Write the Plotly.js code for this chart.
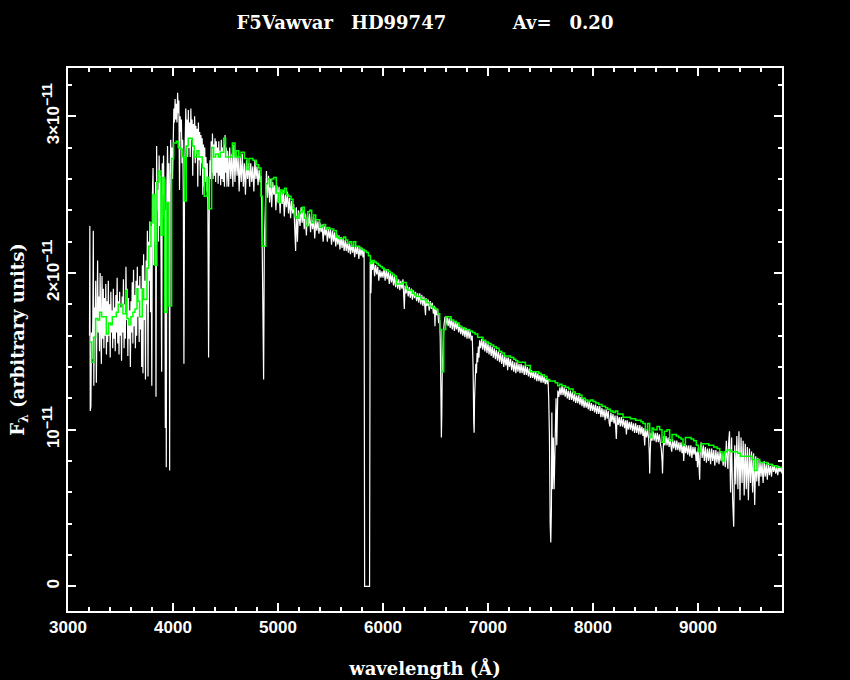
<!DOCTYPE html>
<html>
<head>
<meta charset="utf-8">
<script src="https://cdn.plot.ly/plotly-3.0.1.min.js"></script>
<style>html,body{margin:0;padding:0;background:#000;}#chart{width:850px;height:680px;}</style>
</head>
<body>
<div id="chart"></div>
<script>
const observedUV = [
[3205,1.60],[3208,2.30],[3212,1.12],[3218,1.15],[3224,1.62],[3230,1.45],[3236,1.70],[3241,2.27],[3246,1.28],[3252,1.78],
[3258,1.60],[3264,1.95],[3270,1.30],[3276,1.90],[3282,2.08],[3288,1.62],[3294,1.85],[3300,1.50],[3306,2.00],[3312,1.65],
[3318,1.42],[3324,1.98],[3330,1.58],[3336,1.90],[3342,1.52],[3348,1.84],[3354,1.60],[3360,1.93],[3366,1.48],[3372,1.82],
[3378,1.56],[3384,1.95],[3390,1.60],[3396,1.80],[3402,1.46],[3408,1.88],[3414,1.62],[3420,1.76],[3426,1.52],[3432,1.90],
[3438,1.58],[3444,1.78],[3450,1.50],[3456,1.86],[3462,1.62],[3468,1.97],[3474,1.55],[3480,1.82],[3486,1.48],[3492,1.88],
[3498,1.60],[3504,1.78],[3510,1.44],[3516,1.85],[3522,1.62],[3528,1.96],[3534,1.52],[3540,1.80],[3546,1.58],[3552,2.04],
[3558,1.70],[3564,1.90],[3570,1.47],[3576,1.84],[3582,1.58],[3588,1.76],[3594,1.40],[3600,1.82],[3606,1.62],[3612,1.94],
[3618,1.55],[3624,2.02],[3630,1.66],[3636,1.86],[3642,1.52],[3648,1.95],[3654,1.60],[3660,2.04],[3666,1.72],[3672,1.92],
[3678,1.56],[3684,1.98],[3690,1.64],[3696,1.90]
];
const observedBlue = [
[3702,1.40],[3708,2.05],[3714,1.36],[3720,2.12],[3726,1.70],[3732,1.95],[3738,1.32],[3744,2.08],[3750,1.80],[3756,2.27],
[3762,1.34],[3768,2.20],[3774,1.95],[3780,2.33],[3786,1.75],[3792,2.30],[3798,1.28],[3804,2.50],[3810,2.67],[3816,2.05],
[3822,2.50],[3828,2.20],[3834,2.58],[3838,1.21],[3844,2.81],[3850,2.40],[3856,2.53],[3862,2.20],[3868,2.75],[3874,2.30],
[3880,2.62],[3886,2.10],[3892,1.37],[3898,2.70],[3904,2.50],[3910,2.75],[3916,2.35],[3922,2.60],[3927,1.01],[3932,2.40],
[3936,0.76],[3942,2.55],[3948,2.81],[3954,2.45],[3960,2.70],[3964,2.30],[3968,0.74],[3972,2.50],[3978,2.85],[3984,2.64],
[3990,2.80],[3996,2.60],[4002,2.90],[4008,3.05],[4014,2.96],[4020,3.11],[4026,2.98],[4032,3.08],[4038,2.96],[4044,3.15],
[4050,3.02],[4056,3.10],[4062,2.53],[4068,3.00],[4074,2.90],[4080,2.98],[4086,2.70],[4092,2.85],[4098,2.53],[4104,1.42],
[4110,2.60],[4116,2.85],[4122,3.05],[4128,2.78],[4134,2.98],[4140,2.74],[4146,3.04],[4152,2.80],[4158,2.96],[4164,2.74],
[4170,3.05],[4176,2.85],[4182,2.98],[4188,2.62],[4194,2.95],[4200,2.78],[4206,3.00],[4212,2.70],[4218,2.94],[4224,2.76],
[4230,2.92],[4236,2.55],[4242,2.96],[4248,2.72],[4254,2.90],[4260,2.62],[4266,2.88],[4272,2.70],[4278,2.86],[4284,2.50],
[4290,2.82],[4296,2.55],[4302,2.80],[4308,2.58],[4314,2.74],[4320,2.52],[4326,2.70],[4332,2.45],[4339,1.46],[4346,2.50],
[4352,2.72],[4358,2.60],[4364,2.84],[4370,2.64],[4376,2.89],[4382,2.60],[4388,2.82],[4394,2.62],[4400,2.86],[4406,2.58],
[4412,2.84],[4418,2.64],[4424,2.80],[4430,2.57],[4436,2.84],[4442,2.62],[4448,2.78],[4454,2.56],[4460,2.85],[4466,2.60],
[4472,2.80],[4478,2.58],[4484,2.82],[4490,2.55],[4496,2.88],[4502,2.64],[4508,2.80],[4514,2.55],[4520,2.78]
];
const observedGreen = [
[4530,2.55],[4540,2.80],[4550,2.60],[4560,2.76],[4570,2.55],[4580,2.82],[4590,2.58],[4600,2.78],[4610,2.62],[4620,2.75],
[4630,2.52],[4640,2.74],[4650,2.58],[4660,2.76],[4670,2.55],[4680,2.70],[4690,2.50],[4700,2.72],[4710,2.60],[4720,2.70],
[4730,2.55],[4740,2.70],[4750,2.58],[4760,2.68],[4770,2.52],[4780,2.72],[4790,2.60],[4800,2.68],[4810,2.56],[4820,2.66],
[4830,2.58],[4840,2.62],[4850,2.15],[4863,1.32],[4870,2.20],[4880,2.50],[4890,2.65],[4900,2.48],[4910,2.62],[4920,2.45],
[4930,2.60],[4940,2.42],[4950,2.58],[4960,2.50],[4970,2.56],[4980,2.40],[4990,2.56],[5000,2.45],[5010,2.55],[5020,2.38],
[5030,2.52],[5040,2.44],[5050,2.53],[5060,2.36],[5070,2.50],[5080,2.42],[5090,2.52],[5100,2.38],[5110,2.48],[5120,2.35],
[5130,2.46],[5140,2.38],[5150,2.44],[5168,2.14],[5175,2.42],[5185,2.20],[5195,2.40],[5210,2.30],[5220,2.42],[5230,2.32],
[5240,2.40],[5250,2.28],[5260,2.38],[5270,2.24],[5280,2.38],[5290,2.30],[5300,2.38],[5310,2.26],[5320,2.36],[5330,2.28],
[5340,2.35],[5350,2.22],[5360,2.34],[5370,2.27],[5380,2.33],[5390,2.25],[5400,2.32],[5410,2.26],[5420,2.31],[5430,2.20],
[5440,2.30],[5450,2.24],[5460,2.29],[5470,2.20],[5480,2.28],[5490,2.22],[5500,2.28],[5510,2.18],[5520,2.27],[5530,2.20],
[5540,2.26],[5550,2.17],[5560,2.25],[5570,2.18],[5580,2.24],[5590,2.15],[5600,2.23],[5610,2.16],[5620,2.22],[5630,2.14],
[5640,2.21],[5650,2.14],[5660,2.20],[5670,2.13],[5680,2.19],[5690,2.12],[5700,2.19],[5710,2.13],[5720,2.18],[5730,2.10],
[5740,2.17],[5750,2.12],[5760,2.17],[5770,2.09],[5780,2.16],[5790,2.11],[5800,2.16],[5810,2.10],[5820,2.15],[5825,0.00],
[5872,0.00],[5878,2.07],[5885,1.87],[5892,2.08],[5900,2.02],[5910,2.07],[5920,1.98],[5930,2.05],[5940,1.99],[5950,2.04],
[5960,1.95],[5970,2.02],[5980,1.97],[5990,2.01]
];
const observedRed = [
[6000,1.97],[6010,2.03],[6020,1.95],[6030,2.02],[6040,1.96],[6050,2.01],[6060,1.93],[6070,2.00],[6080,1.94],[6090,1.99],
[6100,1.92],[6110,1.98],[6120,1.91],[6130,1.97],[6140,1.90],[6150,1.96],[6160,1.89],[6170,1.95],[6180,1.90],[6190,1.96],
[6200,1.86],[6203,1.77],[6210,1.92],[6220,1.87],[6230,1.92],[6240,1.85],[6250,1.91],[6260,1.84],[6270,1.90],[6280,1.83],
[6290,1.89],[6300,1.84],[6310,1.88],[6320,1.82],[6330,1.87],[6340,1.81],[6350,1.87],[6360,1.80],[6370,1.86],[6380,1.79],
[6390,1.85],[6400,1.78],[6405,1.73],[6410,1.84],[6420,1.79],[6430,1.83],[6440,1.76],[6450,1.82],[6460,1.77],[6470,1.81],
[6480,1.74],[6490,1.79],[6495,1.66],[6500,1.78],[6510,1.73],[6520,1.77],[6530,1.68],[6540,1.70],[6545,1.58],[6552,1.20],
[6556,0.95],[6560,1.10],[6565,1.40],[6570,1.55],[6580,1.66],[6590,1.72],[6600,1.67],[6610,1.72],[6620,1.66],[6630,1.71],
[6640,1.65],[6650,1.71],[6660,1.64],[6670,1.70],[6680,1.63],[6690,1.69],[6700,1.64],[6710,1.68],[6720,1.62],[6730,1.67],
[6740,1.61],[6750,1.66],[6760,1.60],[6770,1.65],[6780,1.59],[6790,1.65],[6800,1.58],[6810,1.64],[6820,1.58],[6830,1.63],
[6840,1.57],[6850,1.60],[6858,1.40],[6864,1.05],[6868,0.98],[6872,1.20],[6878,1.34],[6884,1.42],[6890,1.36],[6896,1.49],
[6902,1.43],[6908,1.53],[6914,1.46],[6920,1.57],[6930,1.52],[6940,1.58],[6950,1.51],[6960,1.57],[6970,1.50],[6980,1.56],
[6990,1.49],[7000,1.55],[7010,1.48],[7020,1.54],[7030,1.47],[7040,1.53],[7050,1.46],[7060,1.52],[7070,1.45],[7080,1.51],
[7090,1.44],[7100,1.50],[7110,1.43],[7120,1.49],[7130,1.42],[7140,1.48],[7150,1.40],[7160,1.47],[7170,1.41],[7180,1.46],
[7187,1.38],[7195,1.46],[7205,1.40],[7215,1.45],[7225,1.38],[7235,1.44],[7245,1.37],[7255,1.43],[7265,1.36],[7275,1.43],
[7285,1.37],[7295,1.42],[7305,1.36],[7315,1.42],[7325,1.36],[7335,1.41],[7345,1.35],[7355,1.41],[7365,1.35],[7375,1.40],
[7385,1.34],[7395,1.39],[7405,1.33],[7415,1.38],[7425,1.33],[7435,1.37],[7445,1.32],[7455,1.37],[7465,1.31],[7475,1.36],
[7485,1.31],[7495,1.35],[7505,1.30],[7515,1.35],[7525,1.30],[7535,1.34],[7545,1.29],[7555,1.33],[7565,1.29],[7572,1.32],
[7578,1.20],[7585,0.97],[7592,0.40],[7598,0.28],[7604,0.50],[7608,1.11],[7614,0.62],[7622,0.95],[7630,0.62],[7640,0.87],
[7648,1.20],[7655,0.90],[7665,1.25],[7675,1.21],[7685,1.27],[7695,1.22],[7705,1.28],[7715,1.22],[7725,1.27],[7735,1.21],
[7745,1.26],[7755,1.20],[7765,1.25],[7775,1.19],[7785,1.25],[7795,1.19],[7805,1.24],[7815,1.18],[7825,1.23],[7835,1.17],
[7845,1.22],[7855,1.17],[7865,1.22],[7875,1.16],[7885,1.21],[7895,1.15],[7905,1.20],[7915,1.14],[7925,1.19],[7935,1.14],
[7945,1.18],[7955,1.13],[7965,1.18],[7975,1.12],[7985,1.17],[7995,1.12]
];
const observedIR = [
[8005,1.16],[8015,1.11],[8025,1.16],[8035,1.10],[8045,1.15],[8055,1.10],[8065,1.15],[8075,1.08],[8085,1.14],[8095,1.08],
[8105,1.13],[8115,1.06],[8125,1.13],[8135,1.07],[8145,1.12],[8155,1.04],[8162,1.02],[8170,1.11],[8180,1.05],[8190,1.10],
[8200,1.04],[8210,1.09],[8222,0.94],[8230,1.09],[8240,1.03],[8250,1.08],[8260,1.02],[8270,1.08],[8280,1.02],[8290,1.07],
[8300,1.01],[8310,1.06],[8318,0.97],[8326,1.06],[8336,1.00],[8346,1.05],[8356,1.00],[8366,1.05],[8376,0.99],[8386,1.04],
[8396,0.98],[8406,1.04],[8416,0.98],[8426,1.03],[8436,0.97],[8446,1.03],[8456,0.97],[8466,1.02],[8476,0.96],[8484,1.01],
[8492,0.90],[8500,1.00],[8510,0.95],[8520,1.00],[8530,0.94],[8536,0.85],[8540,0.72],[8545,0.85],[8552,0.98],[8562,0.93],
[8572,0.99],[8582,0.93],[8592,0.98],[8602,0.92],[8612,0.98],[8622,0.92],[8632,0.97],[8642,0.91],[8650,0.88],[8658,0.80],
[8662,0.72],[8667,0.85],[8675,0.96],[8685,0.90],[8695,0.96],[8705,0.90],[8715,0.95],[8725,0.89],[8735,0.94],[8745,0.88],
[8750,0.86],[8758,0.94],[8768,0.88],[8778,0.93],[8788,0.87],[8798,0.93],[8808,0.87],[8818,0.92],[8828,0.86],[8838,0.92],
[8848,0.85],[8858,0.90],[8864,0.80],[8872,0.91],[8882,0.85],[8892,0.90],[8902,0.84],[8912,0.90],[8922,0.83],[8932,0.90],
[8942,0.82],[8952,0.89],[8962,0.84],[8972,0.89],[8982,0.80],[8990,0.86],[8995,0.76],[9002,0.88],[9010,0.80],[9016,0.68],
[9022,0.88],[9030,0.92],[9040,0.82],[9050,0.90],[9060,0.80],[9070,0.89],[9080,0.79],[9090,0.88],[9100,0.80],[9110,0.88],
[9120,0.78],[9130,0.88],[9140,0.80],[9150,0.87],[9160,0.77],[9170,0.87],[9180,0.79],[9190,0.86],[9200,0.78],[9210,0.86],
[9220,0.80],[9230,0.85],[9240,0.77],[9250,0.86],[9260,0.76],[9270,0.93],[9280,0.78],[9285,0.75],[9292,0.92],
[9300,0.99],[9310,0.60],[9320,0.95],[9330,0.55],[9340,0.38],[9350,0.90],[9360,0.65],[9370,0.96],[9380,0.62],[9390,0.99],
[9400,0.55],[9410,0.95],[9420,0.66],[9430,0.93],[9440,0.58],[9450,0.91],[9460,0.62],[9470,0.89],[9480,0.55],[9490,0.88],
[9500,0.66],[9510,0.86],[9520,0.60],[9530,0.85],[9540,0.52],[9550,0.83],[9560,0.67],[9570,0.82],[9580,0.64],[9590,0.80],
[9600,0.70],[9610,0.79],[9620,0.66],[9630,0.80],[9640,0.70],[9650,0.78],[9660,0.68],[9670,0.79],[9680,0.71],[9690,0.77],
[9700,0.70],[9710,0.78],[9720,0.73],[9730,0.77],[9740,0.72],[9750,0.76],[9760,0.71],[9770,0.77],[9780,0.73],[9790,0.76],
[9800,0.72]
];
// Model spectrum (binned, bin start wavelength, flux in 1e-11)
const modelBins = [
[3206,1.56],[3225,1.43],[3244,1.59],[3263,1.71],[3282,1.70],[3301,1.75],[3320,1.72],[3343,1.72],[3365,1.61],[3387,1.68],
[3406,1.67],[3422,1.72],[3441,1.72],[3460,1.75],[3479,1.80],[3504,1.80],[3523,1.74],[3549,1.89],[3561,1.71],[3580,1.67],
[3599,1.72],[3618,1.75],[3638,1.77],[3657,1.90],[3666,1.82],[3682,1.72],[3707,1.90],[3720,1.83],[3752,2.03],[3768,2.17],
[3790,2.32],[3809,2.50],[3828,2.05],[3847,2.58],[3866,2.65],[3885,2.24],[3904,2.61],[3920,1.75],[3942,2.45],[3961,1.79],
[3987,2.73],[4006,2.83],[4031,2.84],[4050,2.80],[4069,2.79],[4088,2.74],[4107,2.46],[4126,2.81],[4145,2.86],[4184,2.81],
[4203,2.74],[4228,2.78],[4247,2.74],[4279,2.67],[4298,2.49],[4324,2.61],[4342,2.41],[4368,2.80],[4387,2.74],[4406,2.76],
[4431,2.74],[4450,2.77],[4482,2.86],[4501,2.74],[4565,2.83],[4591,2.74],[4603,2.78],[4626,2.74],[4648,2.77],[4680,2.73],
[4705,2.66],[4724,2.73],[4762,2.72],[4794,2.69],[4816,2.67],[4838,2.49],[4851,2.17],[4883,2.57],[4902,2.60],[4921,2.55],
[4940,2.60],[4959,2.61],[4984,2.51],[5003,2.45],[5023,2.53],[5042,2.51],[5061,2.54],[5080,2.50],[5099,2.49],[5124,2.47],
[5143,2.41],[5162,2.36],[5181,2.35],[5200,2.38],[5213,2.39],[5232,2.42],[5251,2.35],[5264,2.30],[5283,2.39],[5302,2.40],
[5321,2.32],[5340,2.37],[5359,2.34],[5378,2.34],[5397,2.29],[5416,2.30],[5435,2.31],[5454,2.28],[5473,2.29],[5492,2.28],
[5511,2.28],[5531,2.27],[5556,2.23],[5575,2.22],[5626,2.23],[5645,2.21],[5664,2.19],[5683,2.20],[5702,2.17],[5721,2.20],
[5740,2.17],[5759,2.17],[5778,2.16],[5797,2.15],[5823,2.14],[5842,2.13],[5861,2.11],[5880,2.06],[5899,2.08],[5918,2.07],
[5937,2.06],[5956,2.05],[5975,2.04],[5994,2.03],[6013,2.02],[6032,2.02],[6051,2.01],[6070,2.00],[6089,1.99],[6108,1.98],
[6127,1.93],[6181,1.94],[6222,1.90],[6235,1.89],[6279,1.87],[6298,1.86],[6317,1.85],[6340,1.85],[6362,1.83],[6394,1.83],
[6419,1.81],[6444,1.79],[6470,1.78],[6495,1.77],[6521,1.74],[6540,1.64],[6559,1.37],[6578,1.64],[6597,1.72],[6648,1.70],
[6673,1.69],[6698,1.68],[6724,1.66],[6749,1.65],[6775,1.64],[6800,1.64],[6825,1.63],[6851,1.62],[6876,1.61],[6902,1.59],
[6927,1.59],[6952,1.57],[6978,1.56],[7003,1.55],[7029,1.54],[7054,1.53],[7079,1.52],[7105,1.50],[7130,1.49],[7156,1.47],
[7181,1.47],[7213,1.46],[7245,1.45],[7264,1.44],[7283,1.43],[7308,1.43],[7356,1.41],[7378,1.41],[7403,1.37],[7460,1.37],
[7483,1.36],[7505,1.35],[7537,1.34],[7562,1.32],[7587,1.31],[7610,1.31],[7641,1.30],[7664,1.28],[7683,1.29],[7705,1.28],
[7737,1.27],[7768,1.26],[7791,1.26],[7810,1.24],[7832,1.23],[7873,1.22],[7895,1.20],[7927,1.19],[7949,1.18],[7975,1.19],
[8000,1.18],[8026,1.17],[8054,1.16],[8086,1.15],[8118,1.14],[8140,1.13],[8165,1.12],[8191,1.11],[8213,1.12],[8235,1.10],
[8261,1.10],[8286,1.08],[8311,1.08],[8330,1.08],[8356,1.07],[8381,1.07],[8406,1.06],[8435,1.06],[8457,1.05],[8476,1.04],
[8499,1.00],[8521,1.04],[8540,0.95],[8562,1.01],[8578,1.00],[8610,1.02],[8635,1.00],[8657,0.92],[8680,0.99],[8705,1.00],
[8730,0.93],[8753,0.97],[8775,0.97],[8794,0.96],[8816,0.95],[8838,0.94],[8857,0.90],[8880,0.95],[8896,0.95],[8934,0.94],
[8959,0.93],[8984,0.90],[9003,0.86],[9029,0.91],[9054,0.91],[9102,0.90],[9150,0.89],[9181,0.88],[9207,0.86],[9229,0.80],
[9251,0.86],[9277,0.87],[9315,0.86],[9340,0.86],[9378,0.85],[9404,0.83],[9467,0.83],[9515,0.81],[9537,0.74],[9562,0.81],
[9588,0.79],[9626,0.79],[9658,0.78],[9705,0.77],[9753,0.76],[9800,0.76]
];
const xTicks = [3000,4000,5000,6000,7000,8000,9000];
const yTickVals = [0,1,2,3];
const supStart = '<sup><span style="font-size:14px">';
const supEnd = '</span></sup>';
const yTickText = ['0', '10' + supStart + '\u221211' + supEnd, '2\u00d710' + supStart + '\u221211' + supEnd, '3\u00d710' + supStart + '\u221211' + supEnd];
const titleText = 'F5Vawvar\u2002\u2002HD99747\u2002\u2002\u2002\u2002\u2002\u2002\u2002\u2009Av=\u2002\u20020.20';

const observed = observedUV.concat(observedBlue, observedGreen, observedRed, observedIR);

const traces = [
  {x: observed.map(p=>p[0]), y: observed.map(p=>p[1]), type:'scatter', mode:'lines',
   line:{color:'#ffffff', width:1.2}, hoverinfo:'skip'},
  {x: modelBins.map(p=>p[0]), y: modelBins.map(p=>p[1]), type:'scatter', mode:'lines',
   line:{color:'#00ff00', width:1.5, shape:'hv'}, hoverinfo:'skip'}
];

const serif = {family:'DejaVu Serif', size:18, color:'#ffffff', weight:'bold'};
const tickFont = {family:'Liberation Sans, Arial, sans-serif', size:17, color:'#ffffff', weight:'bold'};

const layout = {
  width:850, height:680,
  paper_bgcolor:'#000000', plot_bgcolor:'#000000',
  margin:{l:68, r:68, t:68, b:69, pad:0},
  showlegend:false,
  title:{text:titleText, font:serif, x:0.5, xref:'paper', y:0.966, yref:'container', yanchor:'middle'},
  xaxis:{
    range:[3000,9800], tickmode:'array', tickvals:xTicks,
    ticks:'inside', ticklen:8, tickwidth:2, tickcolor:'#ffffff',
    showline:true, linewidth:2, linecolor:'#ffffff', mirror:'allticks',
    showgrid:false, zeroline:false, tickfont:tickFont,
    minor:{tickmode:'linear', tick0:3000, dtick:200, ticks:'inside', ticklen:4, tickwidth:2, tickcolor:'#ffffff', showgrid:false},
    title:{text:'wavelength (\u00c5)', font:serif, standoff:26},
    automargin:false
  },
  yaxis:{
    range:[-0.157,3.308], tickmode:'array', tickvals:yTickVals, ticktext:yTickText, tickangle:-90,
    ticks:'inside', ticklen:8, tickwidth:2, tickcolor:'#ffffff',
    showline:true, linewidth:2, linecolor:'#ffffff', mirror:'allticks',
    showgrid:false, zeroline:false, tickfont:tickFont,
    minor:{tickmode:'linear', tick0:0, dtick:0.2, ticks:'inside', ticklen:4, tickwidth:2, tickcolor:'#ffffff', showgrid:false},
    title:{text:'F<sub>\u03bb</sub> (arbitrary units)', font:serif, standoff:10},
    automargin:false
  }
};

Plotly.newPlot('chart', traces, layout, {staticPlot:true, displayModeBar:false});
</script>
</body>
</html>
